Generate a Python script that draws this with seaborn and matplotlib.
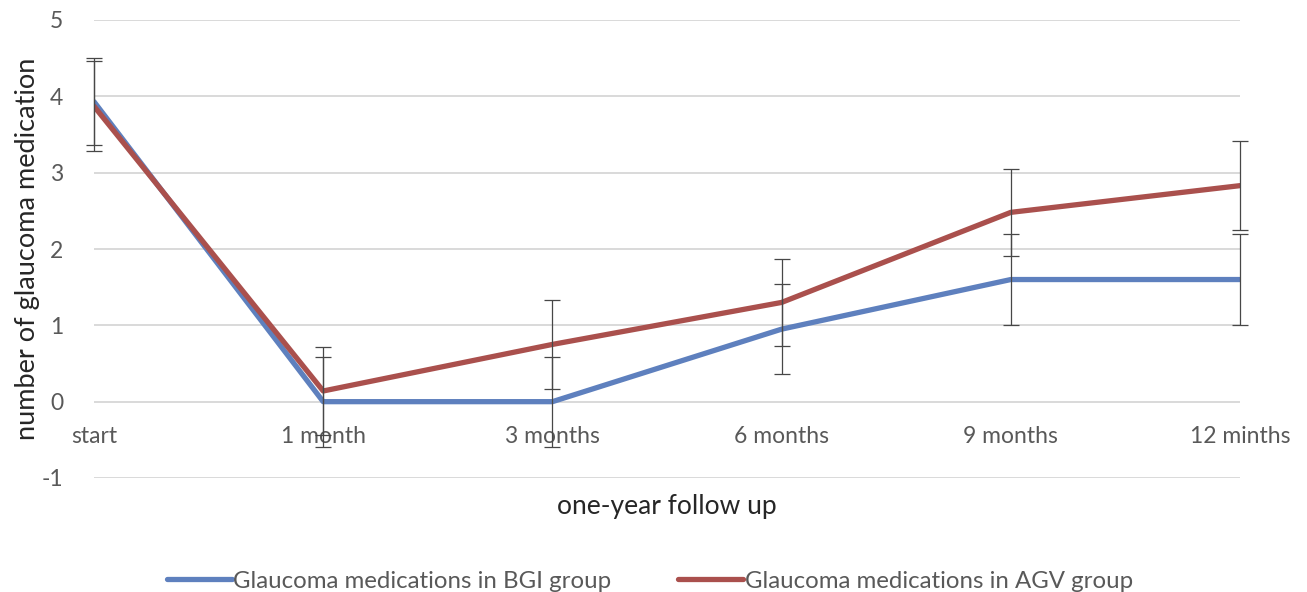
import numpy as np
import pandas as pd
import seaborn as sns
import matplotlib.pyplot as plt

# values
periods = ["start", "1 month", "3 months", "6 months", "9 months", "12 minths"]
bgi_meds = [3.93, 0.0, 0.0, 0.95, 1.60, 1.60]
bgi_err = [0.57, 0.59, 0.59, 0.59, 0.59, 0.59]
agv_meds = [3.87, 0.14, 0.75, 1.30, 2.48, 2.83]
agv_err = [0.59, 0.58, 0.58, 0.57, 0.57, 0.58]
series = ["Glaucoma medications in BGI group", "Glaucoma medications in AGV group"]
colors = ["#5E80BE", "#AA504D"]

sns.set_theme(style="white")
plt.rcParams["font.family"] = ["Lato", "DejaVu Sans"]
plt.rcParams["axes.unicode_minus"] = False
textcol = "#595959"

pos = np.arange(len(periods))
df = pd.DataFrame({
    "pos": np.concatenate([pos, pos]),
    "value": bgi_meds + agv_meds,
    "group": [series[0]] * len(periods) + [series[1]] * len(periods),
})

fig = plt.figure(figsize=(13.07, 5.92), dpi=100)
ax = fig.add_axes([94 / 1307, (592 - 478) / 592, (1240 - 94) / 1307, (478 - 20) / 592])

sns.lineplot(data=df, x="pos", y="value", hue="group", palette=colors,
             linewidth=3.8, ax=ax, solid_capstyle="round", zorder=3)

for vals, errs in [(bgi_meds, bgi_err), (agv_meds, agv_err)]:
    eb = ax.errorbar(pos, vals, yerr=errs, fmt="none", ecolor="#474747",
                     elinewidth=0.9, capsize=6, capthick=0.9, zorder=4)
    for art in eb.lines[1] + eb.lines[2]:
        art.set_clip_on(False)

ax.set_xlim(0, len(periods) - 1)
ax.set_ylim(-1, 5)
ax.set_yticks(range(-1, 6))
ax.yaxis.grid(True, color="#D9D9D9", linewidth=1.4)
ax.set_axisbelow(True)
for s in ax.spines.values():
    s.set_visible(False)

ax.set_xticks(pos)
ax.set_xticklabels([])
for p, lab in zip(pos, periods):
    ax.text(p, -0.46, lab, ha="center", va="center", fontsize=16.5, color=textcol)
ax.tick_params(axis="both", length=0)
ax.tick_params(axis="y", labelsize=16.5, labelcolor=textcol, pad=22)

ax.set_xlabel("one-year follow up", fontsize=19, color="#262626", labelpad=8)
ax.set_ylabel("number of glaucoma medication", fontsize=19.5, color="#262626")
ax.yaxis.set_label_coords(-0.047, 0.50)

ax.legend(loc="center", bbox_to_anchor=(0.485, -0.225), ncol=2, frameon=False,
          fontsize=17.3, handlelength=2.7, columnspacing=2.8, handletextpad=0.05,
          labelcolor=textcol)

fig.savefig("out.png", dpi=100)
